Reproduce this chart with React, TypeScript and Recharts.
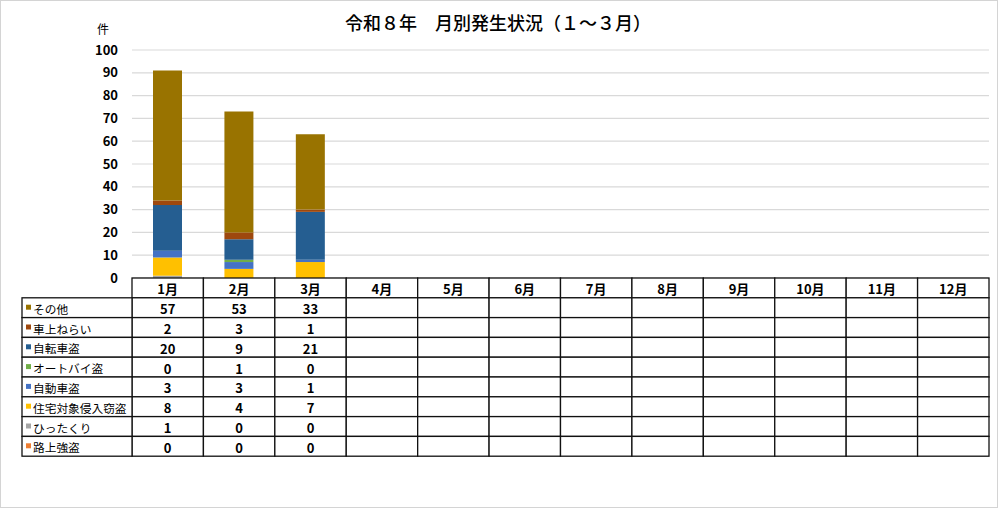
import { BarChart, Bar, XAxis, YAxis, CartesianGrid } from "recharts";

const months = ["1月", "2月", "3月", "4月", "5月", "6月", "7月", "8月", "9月", "10月", "11月", "12月"];
const yTicks = [0, 10, 20, 30, 40, 50, 60, 70, 80, 90, 100];

// series values per month (null = not yet reported)
const rojoGoto = [0, 0, 0, null, null, null, null, null, null, null, null, null];
const hittakuri = [1, 0, 0, null, null, null, null, null, null, null, null, null];
const jutakuShinnyu = [8, 4, 7, null, null, null, null, null, null, null, null, null];
const jidoshaTo = [3, 3, 1, null, null, null, null, null, null, null, null, null];
const autobaiTo = [0, 1, 0, null, null, null, null, null, null, null, null, null];
const jitenshaTo = [20, 9, 21, null, null, null, null, null, null, null, null, null];
const shajoNerai = [2, 3, 1, null, null, null, null, null, null, null, null, null];
const sonota = [57, 53, 33, null, null, null, null, null, null, null, null, null];

// stack order: bottom -> top
const series = [
  { key: "rojo", name: "路上強盗", color: "#ED7D31", values: rojoGoto },
  { key: "hitta", name: "ひったくり", color: "#A5A5A5", values: hittakuri },
  { key: "jutaku", name: "住宅対象侵入窃盗", color: "#FFC000", values: jutakuShinnyu },
  { key: "jidosha", name: "自動車盗", color: "#4472C4", values: jidoshaTo },
  { key: "autobai", name: "オートバイ盗", color: "#70AD47", values: autobaiTo },
  { key: "jitensha", name: "自転車盗", color: "#255E91", values: jitenshaTo },
  { key: "shajo", name: "車上ねらい", color: "#9E480E", values: shajoNerai },
  { key: "sonota", name: "その他", color: "#997300", values: sonota },
];
const tableRows = [...series].reverse();

const data = months.map((m, i) => {
  const row: Record<string, string | number | null> = { month: m };
  series.forEach((s) => (row[s.key] = s.values[i]));
  return row;
});

const W = 1000;
const H = 509;
const M = { top: 50, right: 11, left: 0, bottom: 0 };
const Y_W = 132;
const PLOT_H = 228;
const COL_W = (W - M.left - M.right - Y_W) / months.length;
const ROW_H = 19.8;
const LABEL_LEFT = 22;

const NUM_FONT = "'Liberation Sans Narrow', 'Noto Sans CJK JP', sans-serif";
const JP_FONT = "'Noto Sans CJK JP', sans-serif";
const LINE = "#111";

function TableTick(props: any) {
  const { x, y, payload } = props;
  const index: number = props.index ?? payload.index;
  const left = x - COL_W / 2;
  return (
    <g>
      <rect x={left} y={y} width={COL_W} height={ROW_H} fill="#fff" stroke={LINE} strokeWidth={1.3} />
      <text x={x} y={y + ROW_H / 2 + 1} textAnchor="middle" dominantBaseline="central"
        fontFamily={NUM_FONT} fontWeight={700} fontSize={13} fill="#000">{payload.value}</text>
      {tableRows.map((s, r) => {
        const top = y + ROW_H * (r + 1);
        const v = s.values[index];
        return (
          <g key={s.key}>
            <rect x={left} y={top} width={COL_W} height={ROW_H} fill="#fff" stroke={LINE} strokeWidth={1.3} />
            {v != null && (
              <text x={x} y={top + ROW_H / 2 + 1} textAnchor="middle" dominantBaseline="central"
                fontFamily={NUM_FONT} fontWeight={700} fontSize={13} fill="#000">{v}</text>
            )}
          </g>
        );
      })}
      {index === 0 &&
        tableRows.map((s, r) => {
          const top = y + ROW_H * (r + 1);
          return (
            <g key={"lbl-" + s.key}>
              <rect x={LABEL_LEFT} y={top} width={left - LABEL_LEFT} height={ROW_H} fill="#fff" stroke={LINE} strokeWidth={1.3} />
              <rect x={LABEL_LEFT + 4} y={top + ROW_H / 2 - 3} width={5} height={5} fill={s.color} />
              <text x={LABEL_LEFT + 11} y={top + ROW_H / 2 + 0.5} dominantBaseline="central"
                fontFamily={JP_FONT} fontSize={11.7} fill="#000">{s.name}</text>
            </g>
          );
        })}
    </g>
  );
}

export default function App() {
  return (
    <div style={{ position: "absolute", left: 0, top: 0, width: W, height: H, background: "#fff" }}>
      <div style={{ position: "absolute", left: 0, top: 0, width: 998, height: 508, boxSizing: "border-box", border: "1px solid #d4d4d4" }} />
      <div style={{ position: "absolute", left: 0, top: 10, width: 996, textAlign: "center", fontFamily: JP_FONT,
        fontSize: 18, fontWeight: 500, color: "#000", lineHeight: "24px" }}>
        令和８年　月別発生状況（１～３月）
      </div>
      <div style={{ position: "absolute", left: 97, top: 21, fontFamily: JP_FONT, fontSize: 12, color: "#000", lineHeight: "16px" }}>件</div>
      <div style={{ position: "absolute", left: 0, top: 0 }}>
        <BarChart width={W} height={H} data={data} margin={M} barSize={29}>
          <CartesianGrid vertical={false} stroke="#d9d9d9" strokeWidth={1.2} />
          <YAxis domain={[0, 100]} ticks={yTicks} width={Y_W} axisLine={false} tickLine={false} tickMargin={8}
            tick={{ fontFamily: NUM_FONT, fontWeight: 700, fontSize: 13, fill: "#000" }} interval={0} />
          <XAxis dataKey="month" height={H - M.top - M.bottom - PLOT_H} axisLine={false} tickLine={false}
            tickSize={0} tickMargin={0} interval={0} tick={<TableTick />} />
          {series.map((s) => (
            <Bar key={s.key} dataKey={s.key} name={s.name} stackId="a" fill={s.color} isAnimationActive={false} />
          ))}
        </BarChart>
      </div>
    </div>
  );
}
